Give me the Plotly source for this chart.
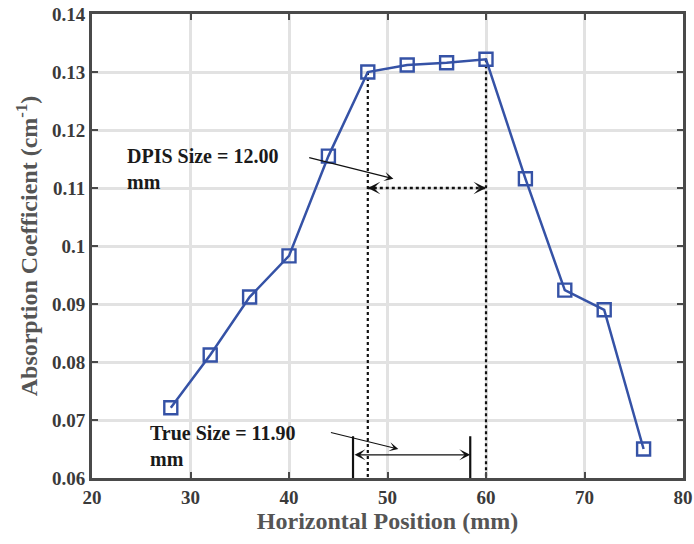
import plotly.graph_objects as go

# Measured absorption profile across the horizontal scan
positions = [28, 32, 36, 40, 44, 48, 52, 56, 60, 64, 68, 72, 76]
absorption = [0.0721, 0.0812, 0.0912, 0.0983, 0.1155, 0.1300, 0.1312,
              0.1316, 0.1322, 0.1116, 0.0924, 0.0890, 0.0650]

# Size estimates (mm)
dpis_left, dpis_right = 48, 60          # DPIS edges, 12.00 mm apart
dpis_level = 0.11
true_left = 46.5
true_size = 11.90
true_right = true_left + true_size
true_level = 0.0640

x_ticks = [20, 30, 40, 50, 60, 70, 80]
y_ticks = [0.06, 0.07, 0.08, 0.09, 0.10, 0.11, 0.12, 0.13, 0.14]

serif = "Liberation Serif, Times New Roman, serif"
blue = "#3552a6"
axis_gray = "#4a4a4a"

fig = go.Figure()

# Dotted guides dropping from the DPIS edge points
for xe in (dpis_left, dpis_right):
    ye = absorption[positions.index(xe)]
    fig.add_trace(go.Scatter(x=[xe, xe], y=[ye, 0.06], mode="lines",
                             line=dict(color="#111", width=2.2, dash="dot"),
                             showlegend=False, hoverinfo="skip"))

# Dotted DPIS span line
fig.add_trace(go.Scatter(x=[dpis_left, dpis_right], y=[dpis_level, dpis_level],
                         mode="lines",
                         line=dict(color="#111", width=2.5, dash="dot"),
                         showlegend=False, hoverinfo="skip"))

# True-size bracket lines
for xe in (true_left, true_right):
    fig.add_trace(go.Scatter(x=[xe, xe], y=[0.0672, 0.0600], mode="lines",
                             line=dict(color="#111", width=2.2),
                             showlegend=False, hoverinfo="skip"))

# Absorption profile
fig.add_trace(go.Scatter(x=positions, y=absorption, mode="lines+markers",
                         line=dict(color=blue, width=2.5),
                         marker=dict(symbol="square-open", size=13,
                                     color=blue, line=dict(width=2.4, color=blue)),
                         showlegend=False))

annotations = []

# Arrowheads on the dotted DPIS span
for tip, tail in ((dpis_left, 1), (dpis_right, -1)):
    annotations.append(dict(x=tip, y=dpis_level, xref="x", yref="y",
                            ax=tail * 8, ay=0, axref="pixel", ayref="pixel",
                            showarrow=True, arrowhead=3, arrowsize=1.3,
                            arrowwidth=1.6, arrowcolor="#111", text=""))

# True-size double arrow
annotations.append(dict(x=true_right, y=true_level, xref="x", yref="y",
                        ax=true_left, ay=true_level, axref="x", ayref="y",
                        showarrow=True, arrowhead=3, arrowside="end+start",
                        arrowsize=1.4, arrowwidth=1.3, arrowcolor="#111", text=""))

label_font = dict(family=serif, size=20, color="#1a1a1a", weight="bold")

# Callout labels with pointer arrows
annotations.append(dict(x=23.35, y=0.1177, xref="x", yref="y",
                        xanchor="left", yanchor="top", align="left",
                        text="DPIS Size = 12.00<br>mm", showarrow=False,
                        font=label_font))
annotations.append(dict(x=50.6, y=0.1116, xref="x", yref="y",
                        ax=41.9, ay=0.1153, axref="x", ayref="y",
                        showarrow=True, arrowhead=3, arrowsize=1.4,
                        arrowwidth=1.1, arrowcolor="#111", text=""))

annotations.append(dict(x=25.7, y=0.0700, xref="x", yref="y",
                        xanchor="left", yanchor="top", align="left",
                        text="True Size = 11.90<br>mm", showarrow=False,
                        font=label_font))
annotations.append(dict(x=51.1, y=0.0650, xref="x", yref="y",
                        ax=44.1, ay=0.0679, axref="x", ayref="y",
                        showarrow=True, arrowhead=3, arrowsize=1.4,
                        arrowwidth=1.1, arrowcolor="#111", text=""))

fig.update_layout(
    width=694, height=544,
    margin=dict(l=92, r=11, t=14, b=66),
    paper_bgcolor="white", plot_bgcolor="white",
    annotations=annotations,
    font=dict(family=serif),
)

common = dict(showline=True, linecolor=axis_gray, linewidth=3, mirror="allticks",
              ticks="inside", ticklen=6, tickwidth=2, tickcolor=axis_gray,
              showgrid=True, gridcolor="#e2e2e2", gridwidth=2.5, zeroline=False,
              automargin=False,
              tickfont=dict(family=serif, size=19, color="#3a3a3a", weight="bold"))

title_font = dict(family=serif, size=24, color="#555555", weight="bold")

fig.update_xaxes(range=[20, 80], tickvals=x_ticks,
                 ticktext=[str(v) for v in x_ticks],
                 title=dict(text="Horizontal Position (mm)", standoff=2,
                            font=title_font),
                 **common)
fig.update_yaxes(range=[0.06, 0.14], tickvals=y_ticks,
                 ticktext=[f"{v:g}" for v in y_ticks],
                 title=dict(text="Absorption Coefficient (cm<sup>-1</sup>)",
                            standoff=8, font=title_font),
                 **common)

fig.write_html("out.html")
